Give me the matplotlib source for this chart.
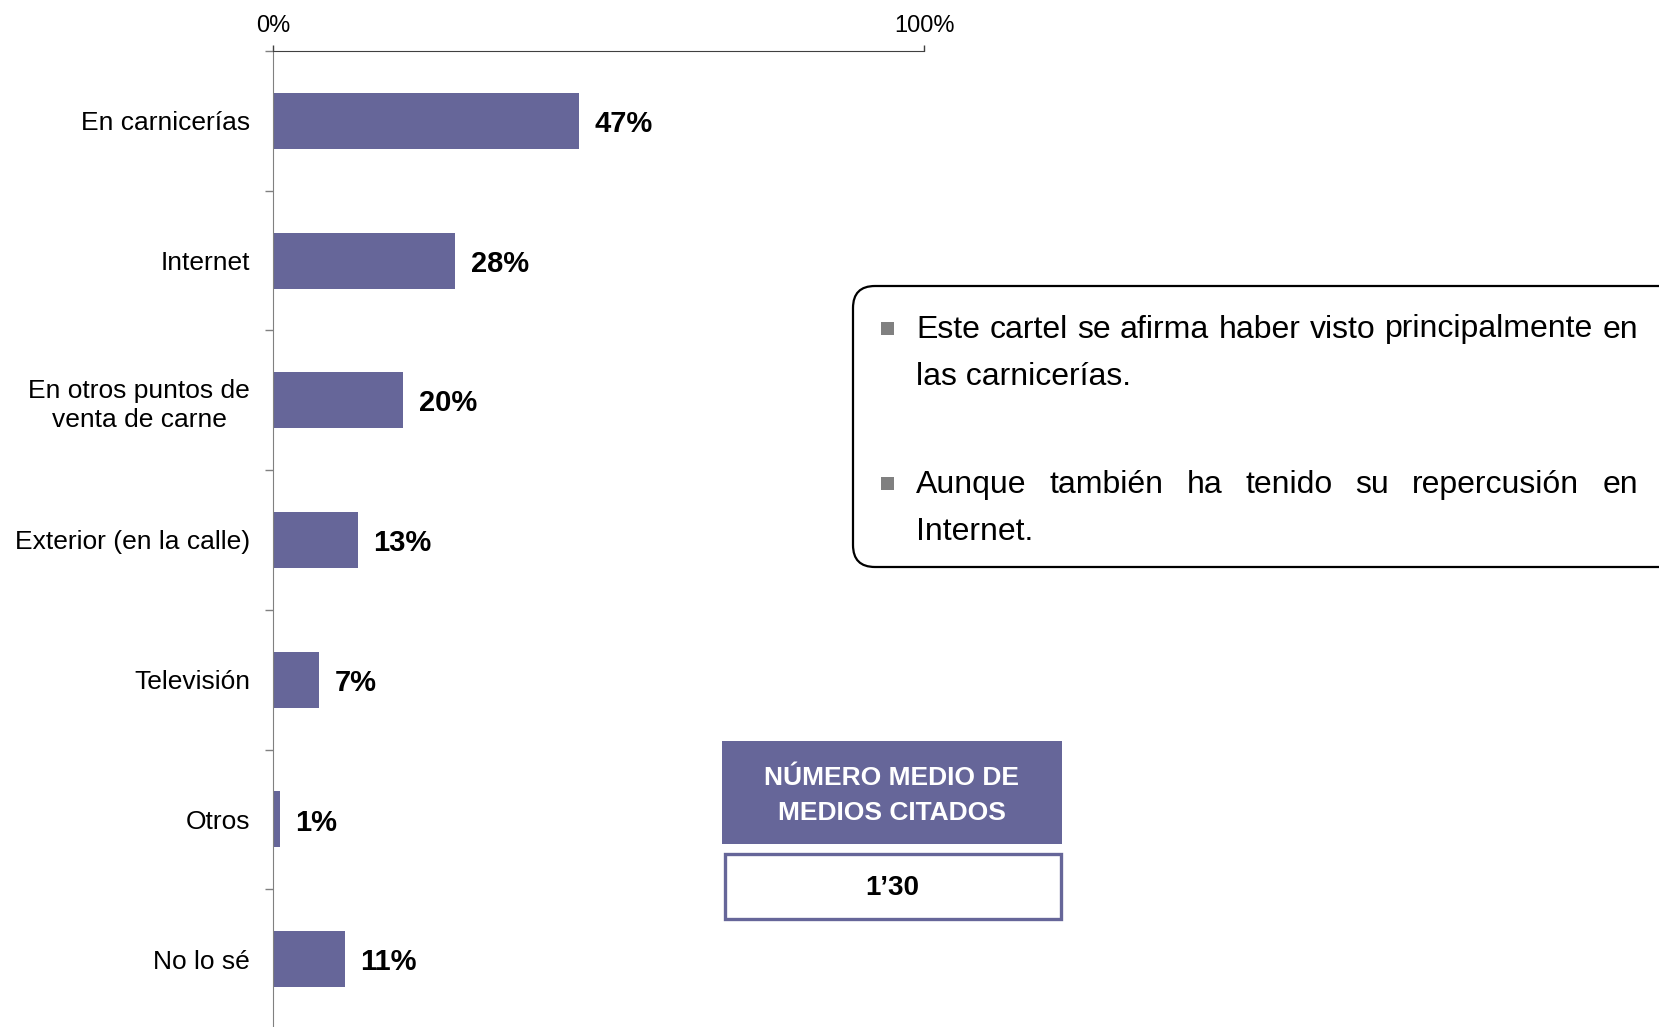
import matplotlib
matplotlib.use("Agg")
import matplotlib.pyplot as plt
from matplotlib.patches import FancyBboxPatch, Rectangle

plt.rcParams["font.family"] = ["Liberation Sans", "DejaVu Sans"]

""" ==== DANE ==== """

categories = [
    "En carnicerías",
    "Internet",
    "En otros puntos de\nventa de carne",
    "Exterior (en la calle)",
    "Televisión",
    "Otros",
    "No lo sé",
]
values = [47, 28, 20, 13, 7, 1, 11]
x_ticks = [0, 100]
x_tick_labels = ["0%", "100%"]

bullet_paragraphs = [
    ["Este cartel se afirma haber visto principalmente en", "las carnicerías."],
    ["Aunque también ha tenido su repercusión en", "Internet."],
]
box_title = "NÚMERO MEDIO DE\nMEDIOS CITADOS"
box_value = "1’30"

BAR_COLOR = "#666699"
W, H = 1659, 1027


def justify_line(ax, renderer, text, x0, x1, y, **kw):
    """Rozkłada słowa linii równomiernie między x0 a x1 (wyrównanie do obu stron)."""
    words = text.split()
    objs = [ax.text(0, y, w, ha="left", va="center", **kw) for w in words]
    widths = [o.get_window_extent(renderer).width for o in objs]
    gap = (x1 - x0 - sum(widths)) / max(len(words) - 1, 1)
    x = x0
    for o, w in zip(objs, widths):
        o.set_x(x)
        x += w + gap


def main():
    fig = plt.figure(figsize=(W / 100, H / 100), dpi=100)
    ax = fig.add_axes([273 / W, 1 - 1029 / H, (924 - 273) / W, (1029 - 51) / H])

    ypos = list(range(len(categories)))
    ax.barh(ypos, values, height=0.4, color=BAR_COLOR)
    ax.set_xlim(0, 100)
    ax.set_ylim(len(categories) - 0.5, -0.5)

    ax.xaxis.tick_top()
    ax.set_xticks(x_ticks, x_tick_labels, fontsize=17)
    ax.tick_params(axis="x", direction="out", length=4.5, width=1, pad=5.5, color="#404040")

    ax.set_yticks(ypos, categories, fontsize=19)
    ax.tick_params(axis="y", which="major", length=0, pad=16.5)
    ax.set_yticks([i - 0.5 for i in range(len(categories) + 1)], minor=True)
    ax.tick_params(axis="y", which="minor", length=6, width=1, color="#808080")
    for lbl in ax.get_yticklabels():
        lbl.set_multialignment("center")
        lbl.set_linespacing(1.25)

    for s in ["right", "bottom"]:
        ax.spines[s].set_visible(False)
    ax.spines["top"].set_color("#404040")
    ax.spines["left"].set_color("#808080")

    for y, v in zip(ypos, values):
        ax.annotate(f"{v}%", (v, y), xytext=(11.5, -2.3), textcoords="offset points",
                    ha="left", va="center", fontsize=21, fontweight="bold")

    """ Warstwa z ramkami, współrzędne w pikselach """
    ov = fig.add_axes([0, 0, 1, 1])
    ov.set_xlim(0, W)
    ov.set_ylim(H, 0)
    ov.axis("off")
    ov.patch.set_visible(False)

    ov.add_patch(FancyBboxPatch((853, 286), 830, 281, boxstyle="round,pad=0,rounding_size=22",
                                facecolor="white", edgecolor="black", linewidth=1.6))

    renderer = fig.canvas.get_renderer()
    line_y = [[329.5, 377], [485, 532.5]]
    bullet_y = [328, 483]
    for para, ys, by in zip(bullet_paragraphs, line_y, bullet_y):
        ov.add_patch(Rectangle((881, by - 6.5), 13, 13, facecolor="#808080", edgecolor="none"))
        justify_line(ov, renderer, para[0], 916, 1638, ys[0], fontsize=23)
        ov.text(916, ys[1], para[1], ha="left", va="center", fontsize=23)

    ov.add_patch(Rectangle((722, 741), 340, 103, facecolor=BAR_COLOR, edgecolor="none"))
    ov.text(892, 795.5, box_title, ha="center", va="center", color="white",
            fontsize=19, fontweight="bold", linespacing=1.6)
    ov.add_patch(Rectangle((724.5, 853.5), 336, 65, facecolor="white", edgecolor=BAR_COLOR, linewidth=2.4))
    ov.text(892, 888, box_value, ha="center", va="center", fontsize=20, fontweight="bold")

    fig.savefig("out.png", dpi=100)


if __name__ == "__main__":
    main()
